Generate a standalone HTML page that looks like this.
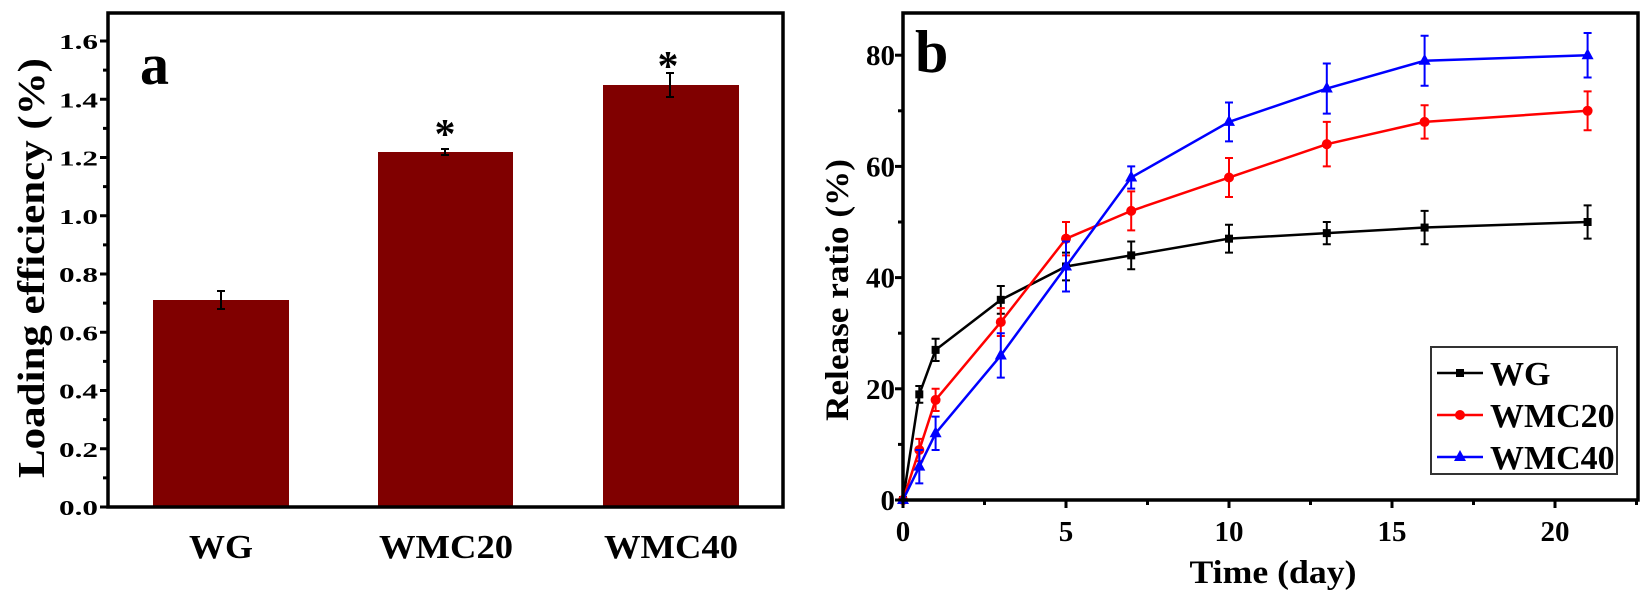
<!DOCTYPE html>
<html><head><meta charset="utf-8"><style>
html,body{margin:0;padding:0;background:#fff;}
svg text{font-family:"Liberation Serif",serif;font-weight:bold;fill:#000;}
</style></head><body>
<svg id="s" width="1650" height="599" xmlns="http://www.w3.org/2000/svg">
<!-- Panel a -->
<g>
<rect x="153" y="300" width="136" height="207" fill="#800000"/>
<rect x="378" y="152" width="135" height="355" fill="#800000"/>
<rect x="603" y="85" width="136" height="422" fill="#800000"/>
<g stroke="#000" stroke-width="2">
<line x1="221" y1="291" x2="221" y2="309"/><line x1="217" y1="291" x2="225" y2="291"/><line x1="217" y1="309" x2="225" y2="309"/>
<line x1="445" y1="149" x2="445" y2="155"/><line x1="441" y1="149" x2="449" y2="149"/><line x1="441" y1="155" x2="449" y2="155"/>
<line x1="670" y1="73" x2="670" y2="97"/><line x1="666" y1="73" x2="674" y2="73"/><line x1="666" y1="97" x2="674" y2="97"/>
</g>
<text x="445" y="148" font-size="42" text-anchor="middle">*</text>
<text x="668" y="80" font-size="42" text-anchor="middle">*</text>
<path d="M108 13 H783 V507 H108 Z" fill="none" stroke="#000" stroke-width="3.5"/>
<g id="lt" stroke="#000" stroke-width="3"></g>
<g id="ll" font-size="21" text-anchor="end"></g>
<text x="140" y="84" font-size="58">a</text>
<text x="221" y="558" font-size="34" text-anchor="middle" textLength="64" lengthAdjust="spacingAndGlyphs">WG</text>
<text x="446" y="558" font-size="34" text-anchor="middle" textLength="134" lengthAdjust="spacingAndGlyphs">WMC20</text>
<text x="671" y="558" font-size="34" text-anchor="middle" textLength="134" lengthAdjust="spacingAndGlyphs">WMC40</text>
<text transform="translate(44,268) rotate(-90)" font-size="38" text-anchor="middle" textLength="420" lengthAdjust="spacingAndGlyphs">Loading efficiency (%)</text>
</g>
<!-- Panel b -->
<g>
<g id="series"></g>
<path d="M903 13 H1638 V500 H903 Z" fill="none" stroke="#000" stroke-width="3.5"/>
<g id="rt" stroke="#000" stroke-width="3"></g>
<g id="rl" font-size="29"></g>
<text x="915" y="72" font-size="60">b</text>
<text x="1273" y="583" font-size="33" text-anchor="middle" textLength="167" lengthAdjust="spacingAndGlyphs">Time (day)</text>
<text transform="translate(848,290) rotate(-90)" font-size="33" text-anchor="middle" textLength="262" lengthAdjust="spacingAndGlyphs">Release ratio (%)</text>
<rect x="1431" y="347" width="186" height="127" fill="#fff" stroke="#333" stroke-width="2"/>
<g id="leg"></g>
</g>
</svg>
<script>
var NS="http://www.w3.org/2000/svg";
function el(p,t,a,txt){var e=document.createElementNS(NS,t);for(var k in a)e.setAttribute(k,a[k]);if(txt!==undefined)e.textContent=txt;document.getElementById(p).appendChild(e);return e;}
for(var i=0;i<=16;i++){var y=507-i*0.1*291.25;var len=(i%2==0)?8:5;
 el("lt","line",{x1:108-len,y1:y,x2:108,y2:y});
 if(i%2==0)el("ll","text",{x:98,y:y+8,textLength:39,lengthAdjust:"spacingAndGlyphs"},(i/10).toFixed(1));}
function X(d){return 903+32.6*d;}function Y(v){return 500-v*5.56;}
for(var v=0;v<=80;v+=10){var y=Y(v);var len=(v%20==0)?8:5;el("rt","line",{x1:903-len,y1:y,x2:903,y2:y});
 if(v%20==0)el("rl","text",{x:895,y:y+10,"text-anchor":"end"},v);}
for(var d=0;d<=22.5;d+=2.5){var x=X(d);var len=(d%5==0)?8:5;el("rt","line",{x1:x,y1:500,x2:x,y2:500+len});
 if(d%5==0)el("rl","text",{x:x,y:541,"text-anchor":"middle"},d);}
var t=[0,0.5,1,3,5,7,10,13,16,21];
var S=[
 {c:"#000",m:"s",v:[0,19,27,36,42,44,47,48,49,50],e:[0,1.5,2,2.5,2.5,2.5,2.5,2,3,3]},
 {c:"#ff0000",m:"c",v:[0,9,18,32,47,52,58,64,68,70],e:[0,2,2,2.5,3,3.5,3.5,4,3,3.5]},
 {c:"#0000ff",m:"t",v:[0,6,12,26,42,58,68,74,79,80],e:[0,3,3,4,4.5,2,3.5,4.5,4.5,4]}];
S.forEach(function(s){
 var pts=t.map(function(d,i){return X(d)+","+Y(s.v[i]);}).join(" ");
 t.forEach(function(d,i){if(!s.e[i])return;var x=X(d),y1=Y(s.v[i]+s.e[i]),y2=Y(s.v[i]-s.e[i]);
  el("series","path",{d:"M"+x+" "+y1+"V"+y2+"M"+(x-4)+" "+y1+"h8M"+(x-4)+" "+y2+"h8",stroke:s.c,"stroke-width":2,fill:"none"});});
 el("series","polyline",{points:pts,fill:"none",stroke:s.c,"stroke-width":2.5});
 t.forEach(function(d,i){mark("series",s.m,X(d),Y(s.v[i]),s.c);});
});
function mark(p,m,x,y,c){
 if(m=="s")el(p,"rect",{x:x-4,y:y-4,width:8,height:8,fill:c});
 else if(m=="c")el(p,"circle",{cx:x,cy:y,r:5,fill:c});
 else el(p,"path",{d:"M"+x+" "+(y-7)+"L"+(x+6)+" "+(y+4)+"L"+(x-6)+" "+(y+4)+"Z",fill:c});}
var names=["WG","WMC20","WMC40"];
S.forEach(function(s,i){var y=373+i*42;
 el("leg","line",{x1:1437,y1:y,x2:1483,y2:y,stroke:s.c,"stroke-width":2.5});
 mark("leg",s.m,1460,y,s.c);
 el("leg","text",{x:1490,y:y+12,"font-size":34},names[i]);});
</script>
</body></html>
